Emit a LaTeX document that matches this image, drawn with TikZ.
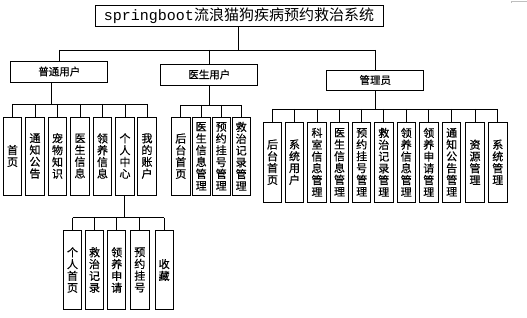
\documentclass[tikz,border=0pt]{standalone}
\usepackage{fontspec}
\setmainfont{Noto Sans CJK SC}
\newfontfamily\boxfont[FakeBold=0.5]{Noto Sans CJK SC}
\newfontfamily\codefont{Liberation Mono}
\tikzset{
  titlebox/.style={draw, line width=0.9pt, minimum width=288pt, minimum height=21pt, inner sep=0pt, font=\fontsize{15}{16}\selectfont},
  rolebox/.style={draw, line width=0.9pt, minimum width=97pt, minimum height=21pt, inner sep=0pt, font=\boxfont\fontsize{10.5}{12}\selectfont},
  leafbox/.style={draw, line width=0.9pt, minimum width=18.3pt, minimum height=78pt, inner sep=0pt, align=center, font=\boxfont\fontsize{11}{11.8}\selectfont},
  link/.style={line width=0.8pt},
}
\begin{document}
\begin{tikzpicture}[x=1pt, y=-1pt]
    \useasboundingbox (0,0) rectangle (527,318);
    % system and roles
    \node[titlebox] (sys) at (239,15.5) {{\codefont springboot}流浪猫狗疾病预约救治系统};
    \node[rolebox] (pu) at (59.3,71.5) {普通用户};
    \node[rolebox] (du) at (209.3,74.5) {医生用户};
    \node[rolebox, minimum height=20pt] (ad) at (375.3,80) {管理员};
    \coordinate (topbus) at (238.7,50);
    \draw[link] (sys.south -| topbus) -- (topbus);
    \draw[link] (pu.north |- topbus) -- (ad.north |- topbus);
    \foreach \r in {pu,du,ad} \draw[link] (\r.north |- topbus) -- (\r.north);
    % user pages
    \node[leafbox] (u1) at (12.5,156) {首\\页};
    \node[leafbox] (u2) at (35,156) {通\\知\\公\\告};
    \node[leafbox] (u3) at (57.5,156) {宠\\物\\知\\识};
    \node[leafbox] (u4) at (80,156) {医\\生\\信\\息};
    \node[leafbox] (u5) at (102.5,156) {领\\养\\信\\息};
    \node[leafbox] (u6) at (125,156) {个\\人\\中\\心};
    \node[leafbox] (u7) at (147,156) {我\\的\\账\\户};
    \coordinate (ubus) at (51.7,104);
    \draw[link] (pu.south -| ubus) -- (ubus);
    \draw[link] (u1.north |- ubus) -- (u7.north |- ubus);
    \foreach \i in {1,...,7} \draw[link] (u\i.north |- ubus) -- (u\i.north);
    % personal centre
    \node[leafbox, minimum height=78.6pt] (p1) at (72.5,270) {个\\人\\首\\页};
    \node[leafbox, minimum height=78.6pt] (p2) at (94.5,270) {救\\治\\记\\录};
    \node[leafbox, minimum height=78.6pt] (p3) at (116.7,270) {领\\养\\申\\请};
    \node[leafbox, minimum height=78.6pt] (p4) at (139.8,270) {预\\约\\挂\\号};
    \node[leafbox, minimum height=78.6pt] (p5) at (164.2,270) {收\\藏};
    \coordinate (pbus) at (124.5,217.7);
    \draw[link] (u6.south -| pbus) -- (pbus);
    \draw[link] (p1.north |- pbus) -- (p5.north |- pbus);
    \foreach \i in {1,...,5} \draw[link] (p\i.north |- pbus) -- (p\i.north);
    % doctor pages
    \node[leafbox, minimum height=77.7pt] (d1) at (180.8,156.2) {后\\台\\首\\页};
    \node[leafbox, minimum height=77.7pt] (d2) at (201.2,156.2) {医\\生\\信\\息\\管\\理};
    \node[leafbox, minimum height=77.7pt] (d3) at (221.2,156.2) {预\\约\\挂\\号\\管\\理};
    \node[leafbox, minimum height=77.7pt] (d4) at (241.2,156.2) {救\\治\\记\\录\\管\\理};
    \coordinate (dbus) at (209.3,105);
    \draw[link] (du.south -| dbus) -- (dbus);
    \draw[link] (d1.north |- dbus) -- (d4.north |- dbus);
    \foreach \i in {1,...,4} \draw[link] (d\i.north |- dbus) -- (d\i.north);
    % admin pages
    \node[leafbox, minimum height=79.7pt] (a1) at (272.5,162.2) {后\\台\\首\\页};
    \node[leafbox, minimum height=79.7pt] (a2) at (294.5,162.2) {系\\统\\用\\户};
    \node[leafbox, minimum height=79.7pt] (a3) at (317,162.2) {科\\室\\信\\息\\管\\理};
    \node[leafbox, minimum height=79.7pt] (a4) at (339.5,162.2) {医\\生\\信\\息\\管\\理};
    \node[leafbox, minimum height=79.7pt] (a5) at (361.7,162.2) {预\\约\\挂\\号\\管\\理};
    \node[leafbox, minimum height=79.7pt] (a6) at (383.8,162.2) {救\\治\\记\\录\\管\\理};
    \node[leafbox, minimum height=79.7pt] (a7) at (406.2,162.2) {领\\养\\信\\息\\管\\理};
    \node[leafbox, minimum height=79.7pt] (a8) at (428.8,162.2) {领\\养\\申\\请\\管\\理};
    \node[leafbox, minimum height=79.7pt] (a9) at (451.7,162.2) {通\\知\\公\\告\\管\\理};
    \node[leafbox, minimum height=79.7pt] (a10) at (475,162.2) {资\\源\\管\\理};
    \node[leafbox, minimum height=79.7pt] (a11) at (497.8,162.2) {系\\统\\管\\理};
    \coordinate (abus) at (375.5,109);
    \draw[link] (ad.south -| abus) -- (abus);
    \draw[link] (a1.north |- abus) -- (a11.north |- abus);
    \foreach \i in {1,...,11} \draw[link] (a\i.north |- abus) -- (a\i.north);
    % stray edge top right
    \draw[gray!50] (511,3) -- (511,1) -- (527,1);
\end{tikzpicture}
\end{document}
